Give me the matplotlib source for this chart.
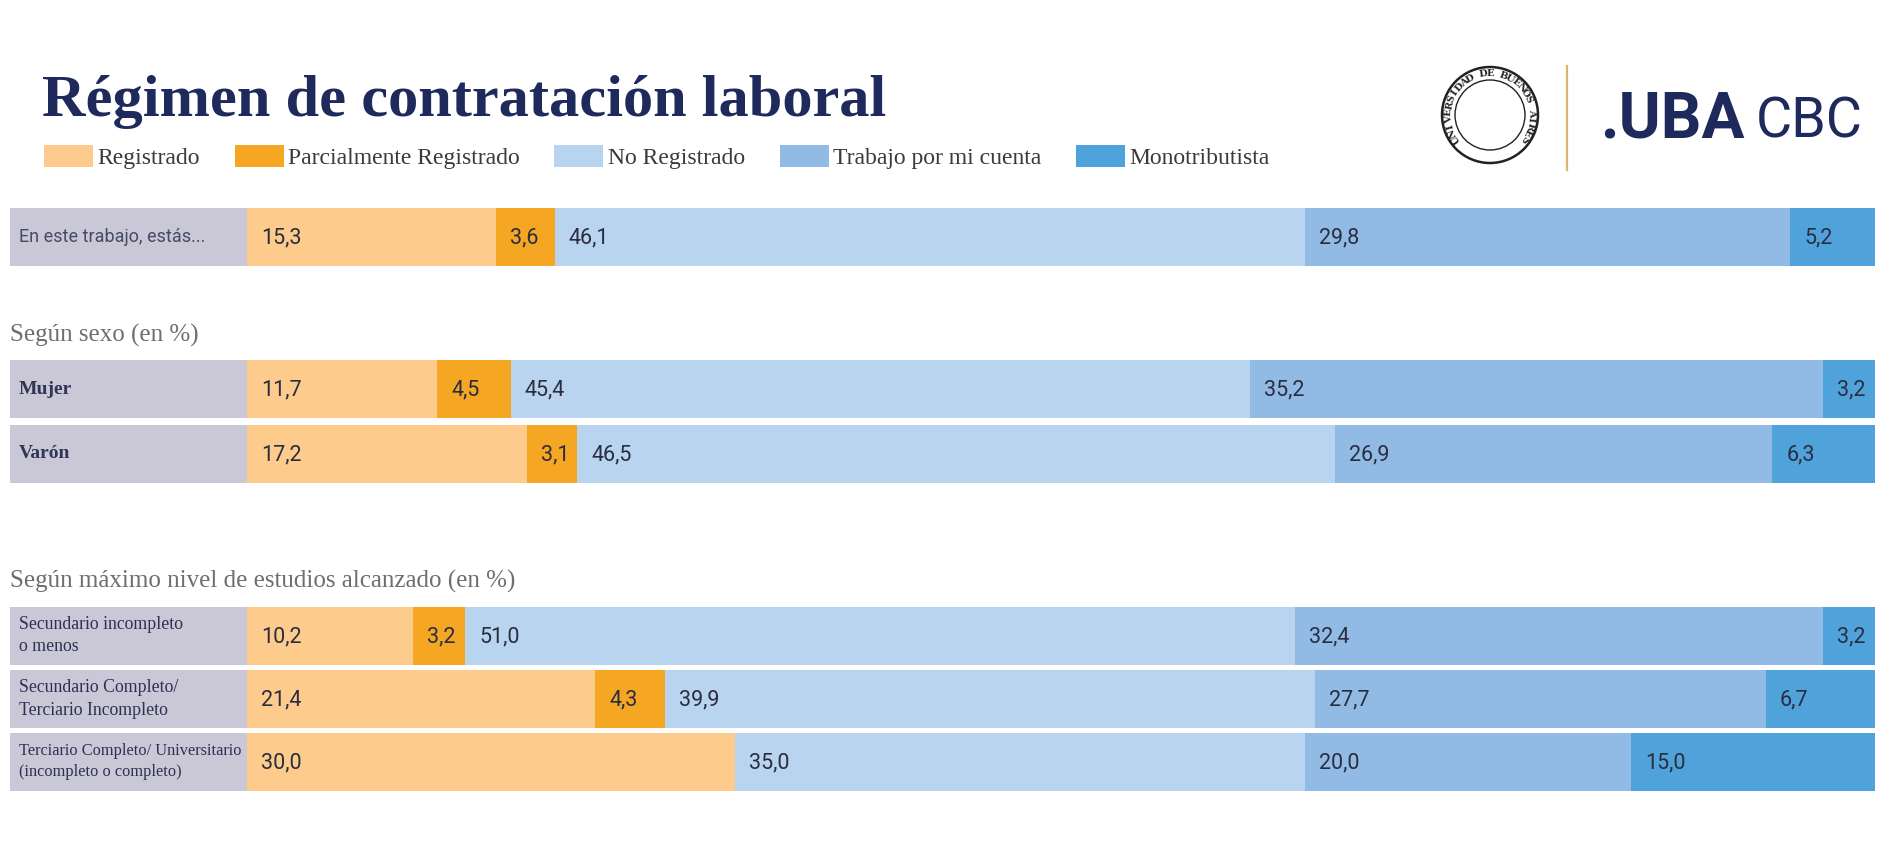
import math
import matplotlib
matplotlib.use("Agg")
import matplotlib.pyplot as plt
from matplotlib.patches import Patch, Circle
from matplotlib.lines import Line2D

# ---------------- data ----------------
categories = [
    "En este trabajo, estás...",
    "Mujer",
    "Varón",
    "Secundario incompleto\no menos",
    "Secundario Completo/\nTerciario Incompleto",
    "Terciario Completo/ Universitario\n(incompleto o completo)",
]
series_names = ["Registrado", "Parcialmente Registrado", "No Registrado",
                "Trabajo por mi cuenta", "Monotributista"]
registrado = [15.3, 11.7, 17.2, 10.2, 21.4, 30.0]
parcial = [3.6, 4.5, 3.1, 3.2, 4.3, 0.0]
no_registrado = [46.1, 45.4, 46.5, 51.0, 39.9, 35.0]
cuenta_propia = [29.8, 35.2, 26.9, 32.4, 27.7, 20.0]
monotributista = [5.2, 3.2, 6.3, 3.2, 6.7, 15.0]
section_titles = ["Según sexo (en %)", "Según máximo nivel de estudios alcanzado (en %)"]
title = "Régimen de contratación laboral"
seal_text = "UNIVERSIDAD DE BUENOS AIRES"

# ---------------- style / layout ----------------
W, H, DPI = 1879, 865, 100
navy = "#1f2a5c"
label_bg = "#cac7d7"
colors = ["#fdcb8b", "#f5a623", "#b9d4ee", "#91bbe4", "#50a3da"]
value_color = "#2a2d40"

row_centers = [237, 389, 453.5, 635.5, 699, 761.5]   # pixel rows (layout)
bar_h = 58
section_y = [335, 581]
ax_left_px, bar_start_px, bar_end_px = 10, 247, 1875
px_per_unit = (bar_end_px - bar_start_px) / 100.0
label_units = (bar_start_px - ax_left_px) / px_per_unit

label_styles = [
    dict(family="Roboto", size=13, weight="normal", color="#454a66"),
    dict(family="Liberation Serif", size=14, weight="bold", color="#2f3556"),
    dict(family="Liberation Serif", size=14, weight="bold", color="#2f3556"),
    dict(family="Liberation Serif", size=12.8, weight="normal", color="#2c3154"),
    dict(family="Liberation Serif", size=12.8, weight="normal", color="#2c3154"),
    dict(family="Liberation Serif", size=11.8, weight="normal", color="#2c3154"),
]

fig = plt.figure(figsize=(W / DPI, H / DPI), dpi=DPI, facecolor="white")

# ---------------- bars ----------------
ax = fig.add_axes([ax_left_px / W, 0, (bar_end_px - ax_left_px) / W, 1])
ax.set_xlim(-label_units, 100)
ax.set_ylim(H, 0)
ax.axis("off")

ax.barh(row_centers, label_units, left=-label_units, height=bar_h,
        color=label_bg, linewidth=0)

series = [registrado, parcial, no_registrado, cuenta_propia, monotributista]
lefts = [0.0] * len(categories)
for vals, col in zip(series, colors):
    ax.barh(row_centers, vals, left=lefts, height=bar_h, color=col, linewidth=0)
    for i, v in enumerate(vals):
        if v > 0:
            ax.text(lefts[i] + 14 / px_per_unit, row_centers[i] + 1,
                    f"{v:.1f}".replace(".", ","), ha="left", va="center",
                    fontsize=15.5, family="Roboto", color=value_color)
    lefts = [l + v for l, v in zip(lefts, vals)]

for i, cat in enumerate(categories):
    st = label_styles[i]
    ax.text(-label_units + 9 / px_per_unit, row_centers[i], cat, ha="left", va="center",
            fontsize=st["size"], family=st["family"], weight=st["weight"],
            color=st["color"], linespacing=1.4)

for y, s in zip(section_y, section_titles):
    ax.text(-label_units, y, s, ha="left", va="center", fontsize=18,
            family="Liberation Serif", color="#6e6e6e")

# ---------------- title & legend ----------------
fig.text(42 / W, 1 - 116 / H, title, fontsize=43.5, weight="bold",
         family="Liberation Serif", color=navy, va="baseline", ha="left")

handles = [Patch(facecolor=c, edgecolor="none") for c in colors]
fig.legend(handles, series_names, loc="upper left",
           bbox_to_anchor=(44 / W, 1 - 145 / H), ncol=5, frameon=False,
           prop={"family": "Liberation Serif", "size": 17},
           labelcolor="#3a3a3a", handlelength=2.08, handleheight=1.05,
           handletextpad=0.2, columnspacing=1.45, borderaxespad=0, borderpad=0)

# ---------------- logo ----------------
lax = fig.add_axes([0, 0, 1, 1], facecolor="none")
lax.set_xlim(0, W)
lax.set_ylim(H, 0)
lax.axis("off")
cx, cy = 1490, 115
lax.add_patch(Circle((cx, cy), 48, fill=False, edgecolor="#222222", linewidth=1.8))
lax.add_patch(Circle((cx, cy), 35, fill=False, edgecolor="#222222", linewidth=1.0))
n = len(seal_text)
start, end = 215.0, -35.0
for k, ch in enumerate(seal_text):
    th = start + (end - start) * k / (n - 1)
    r = 41.5
    x = cx + r * math.cos(math.radians(th))
    y = cy - r * math.sin(math.radians(th))
    lax.text(x, y, ch, rotation=th - 90, ha="center", va="center",
             fontsize=7, weight="bold", family="DejaVu Serif", color="#222222")
lax.add_line(Line2D([1567, 1567], [66, 170], color="#d8b66f", linewidth=1.6))
fig.text(1600 / W, 1 - 138 / H, ".UBA", fontsize=46, weight="bold", family="Roboto",
         color=navy, va="baseline", ha="left")
fig.text(1756 / W, 1 - 138 / H, "CBC", fontsize=40, weight="normal", family="Roboto",
         color=navy, va="baseline", ha="left")

fig.savefig("out.png", dpi=DPI, facecolor="white")
